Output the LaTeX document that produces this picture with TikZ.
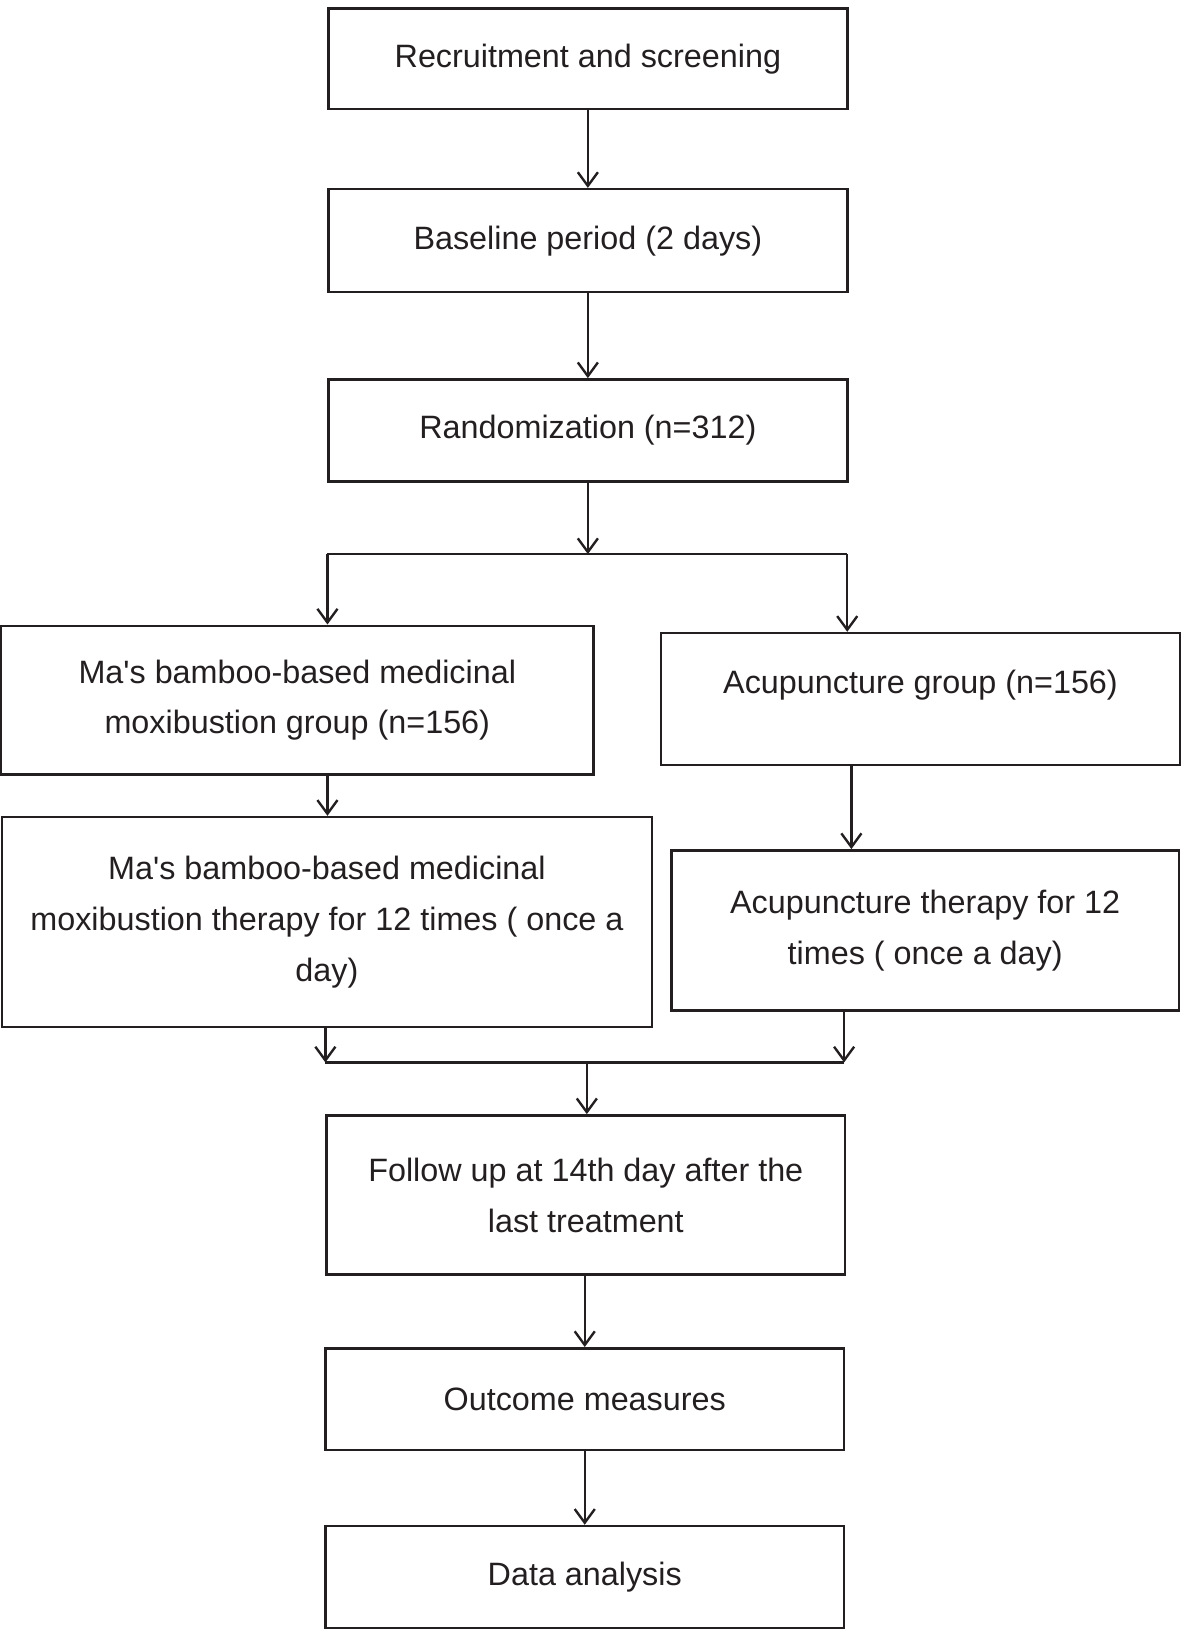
\documentclass[tikz,border=0pt]{standalone}
\usepackage{fontspec}
\setmainfont{Liberation Sans}
\usetikzlibrary{arrows.meta}
\definecolor{inkgray}{RGB}{35,31,32}

\begin{document}
\begin{tikzpicture}[
      box/.style={draw=inkgray, line width=1.4pt, rectangle, align=center, inner sep=0pt,
        text=inkgray, font=\fontsize{17.7pt}{27.9pt}\selectfont},
      arr/.style={draw=inkgray, line width=1.3pt, -{Straight Barb[length=7.5pt,width=11pt]}},
      bar/.style={draw=inkgray, line width=1.3pt}
    ]
    \useasboundingbox (0,0) rectangle (22.78,-31.36);

    % Top column
    \node[box, minimum width=9.98cm, minimum height=1.94cm] (rec) at (11.31,-1.13) {Recruitment and screening};
    \node[box, minimum width=9.98cm, minimum height=1.98cm] (base) at (11.31,-4.63) {Baseline period (2 days)};
    \node[box, minimum width=9.98cm, minimum height=1.96cm] (rand) at (11.31,-8.28) {Randomization (n=312)};
    \draw[arr] (rec) -- (base);
    \draw[arr] (base) -- (rand);

    % Split into two groups
    \coordinate (splitT) at (11.31,-10.66);
    \coordinate (splitL) at (6.30,-10.66);
    \coordinate (splitR) at (16.30,-10.66);
    \draw[arr] (rand.south) -- (splitT);
    \draw[bar] (splitL) -- (splitR);

    \node[box, minimum width=11.40cm, minimum height=2.86cm] (maG) at (5.72,-13.47)
      {Ma\textquotesingle s bamboo-based medicinal\\moxibustion group (n=156)};
    \node[box, minimum width=9.98cm, minimum height=2.54cm, text depth=0.67cm] (acuG) at (17.71,-13.45)
      {Acupuncture group (n=156)};
    \draw[arr] (splitL) -- (splitL |- maG.north);
    \draw[arr] (splitR) -- (splitR |- acuG.north);

    \node[box, minimum width=12.50cm, minimum height=4.04cm] (maT) at (6.29,-17.74)
      {Ma\textquotesingle s bamboo-based medicinal\\moxibustion therapy for 12 times ( once a\\day)};
    \node[box, minimum width=9.76cm, minimum height=3.08cm] (acuT) at (17.80,-17.90)
      {Acupuncture therapy for 12\\times ( once a day)};
    \draw[arr] (maG.south -| splitL) -- (maT.north -| splitL);
    \draw[arr] (acuG.south -| 16.38,0) -- (acuT.north -| 16.38,0);

    % Join the two groups
    \coordinate (joinL) at (6.26,-20.44);
    \coordinate (joinR) at (16.24,-20.44);
    \coordinate (joinM) at (11.29,-20.44);
    \draw[arr] (maT.south -| joinL) -- (joinL);
    \draw[arr] (acuT.south -| joinR) -- (joinR);
    \draw[bar] (joinL) -- (joinR);

    % Bottom column
    \node[box, minimum width=9.98cm, minimum height=3.06cm] (follow) at (11.27,-22.99)
      {Follow up at 14th day after the\\last treatment};
    \node[box, minimum width=9.98cm, minimum height=1.96cm] (outc) at (11.25,-26.92) {Outcome measures};
    \node[box, minimum width=9.98cm, minimum height=1.96cm] (data) at (11.25,-30.34) {Data analysis};
    \draw[arr] (joinM) -- (joinM |- follow.north);
    \draw[arr] (follow.south -| outc.south) -- (outc);
    \draw[arr] (outc) -- (data);

\end{tikzpicture}
\end{document}
